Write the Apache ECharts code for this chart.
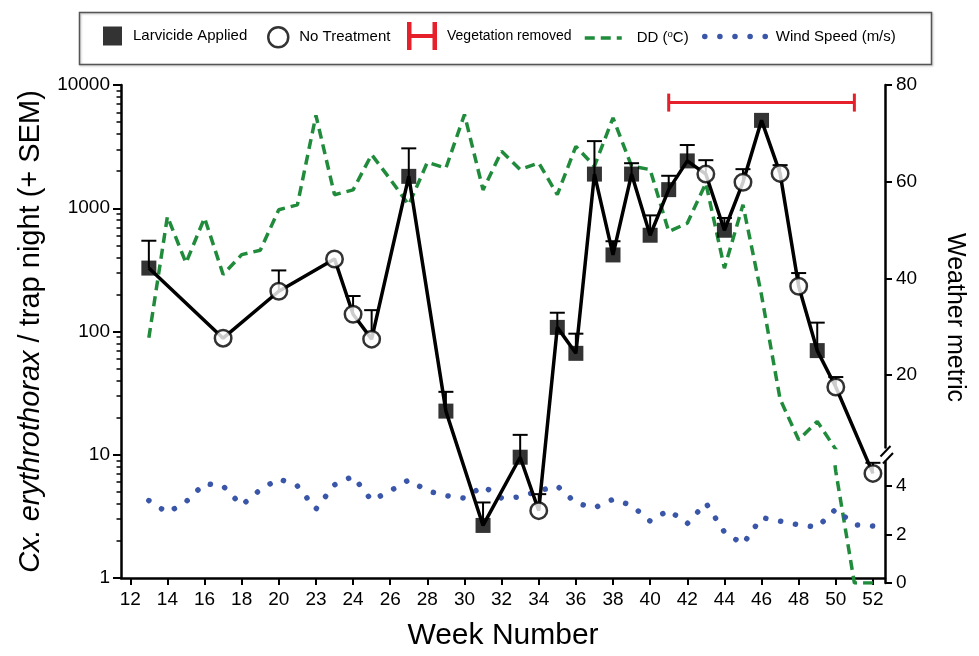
<!DOCTYPE html>
<html><head><meta charset="utf-8">
<script src="https://cdn.jsdelivr.net/npm/echarts@6/dist/echarts.min.js"></script>
<style>html,body{margin:0;padding:0;background:#fff}#c{width:979px;height:656px}</style>
</head><body><div id="c"></div>
<script>
// ---------- data ----------
const xTickValues = [12,14,16,18,20,22,24,26,28,30,32,34,36,38,40,42,44,46,48,50,52];
const xTickLabels = ['12','14','16','18','20','23','24','26','28','30','32','34','36','38','40','42','44','46','48','50','52'];

const larvWeeks = [13,27,29,31,33,35,36,37,38,39,40,41,42,44,46,49];
const larvMean  = [327,1815,22.6,2.67,9.55,108,66.5,1893,418,1893,604,1416,2422,663,5164,70];
const larvSem   = [545,3062,32.4,4.1,14.5,142,96,3505,540,2320,875,1834,3258,834,null,118];

const noWeeks = [17,20,23,24,25,34,43,45,47,48,50,52];
const noMean  = [88.3,212,388,138,86.7,3.52,1893,1625,1918,233,35.5,7.06];
const noSem   = [null,313,null,194,149,4.79,2455,2076,2237,298,42.7,8.6];

const weatherWeeks = [13,14,15,16,17,18,19,20,21,22,23,24,25,26,27,28,29,30,31,32,33,34,35,36,37,38,39,40,41,42,43,44,45,46,47,48,49,50,51,52];
const ddValues   = [27.7,52.8,43.2,52.5,40.8,44.9,45.8,54.2,55.2,73.7,57.3,58.3,65.6,60.5,55.2,64,62.8,73.9,58.3,66.3,62.5,63.9,57.3,67.3,63.2,73.2,63.2,62.5,49.7,51.4,59.7,42.1,55.2,36.5,15,6.6,10.4,4.6,0,0];
const windValues = [3.4,2.9,3.35,4.1,4.0,3.2,3.85,4.3,4.0,3.05,4.05,4.4,3.4,3.8,4.25,3.8,3.6,3.5,4.0,3.5,3.55,3.8,4.0,3.3,3.1,3.45,3.2,2.55,3.0,2.45,3.3,2.1,1.6,2.7,2.55,2.4,2.3,3.05,2.4,2.35];

const vegStart = 41, vegEnd = 51, vegLevel = 7200;

const leftMajorTicks = [1,10,100,1000,10000];
const leftMinorTicks = [2,3,4,5,6,7,8,9,20,30,40,50,60,70,80,90,200,300,400,500,600,700,800,900,2000,3000,4000,5000,6000,7000,8000,9000];
const rightUpperTicks = [20,40,60,80];
const rightLowerTicks = [0,2,4];

// ---------- build ----------
const FONT = 'Liberation Sans, Arial, sans-serif';
const larvData = larvWeeks.map((w,i)=>[w, larvMean[i]]);
const noData = noWeeks.map((w,i)=>[w, noMean[i]]);
const allPts = larvWeeks.map((w,i)=>[w, larvMean[i], larvSem[i]])
  .concat(noWeeks.map((w,i)=>[w, noMean[i], noSem[i]]))
  .sort((a,b)=>a[0]-b[0]);
const connector = allPts.map(p=>[p[0], p[1]]);
const errData = allPts.filter(p=>p[2] != null);
const ddData = weatherWeeks.map((w,i)=>[w, ddValues[i]]);
const windData = weatherWeeks.map((w,i)=>[w, windValues[i]]);

const GREEN = '#1f8b3b', BLUE = '#3a56a8', RED = '#e5202a';
const xMin = 11.5, xMax = 52.65;
const axisLineStyle = {color:'#000', width:2.5};

const chart = echarts.init(document.getElementById('c'), null, {renderer:'canvas'});
const hiddenX = (g)=>({gridIndex:g, type:'value', min:xMin, max:xMax, show:false});

const LFS = 15;
const legendBase = {orient:'horizontal', padding:0, selectedMode:false,
  textStyle:{fontSize:LFS, color:'#000', fontFamily:FONT}};

chart.setOption({
  animation:false,
  backgroundColor:'#fff',
  grid:[
    {left:121, right:94, top:85, bottom:73},
    {left:121, right:94, top:85, bottom:208.5},
    {left:121, right:94, top:461.75, bottom:73}
  ],
  xAxis:[
    {gridIndex:0, type:'value', min:xMin, max:xMax,
     axisLine:{lineStyle:axisLineStyle},
     axisTick:{customValues:xTickValues, length:7, lineStyle:{color:'#000', width:2}},
     axisLabel:{customValues:xTickValues, fontSize:19, color:'#000', fontFamily:FONT, margin:12,
       formatter:(v)=>{const i = xTickValues.indexOf(v); return i>=0 ? xTickLabels[i] : '';}},
     splitLine:{show:false},
     name:'Week Number', nameLocation:'middle', nameGap:43,
     nameTextStyle:{fontSize:30, color:'#000', fontFamily:FONT}},
    hiddenX(1), hiddenX(2)
  ],
  yAxis:[
    {gridIndex:0, type:'log', logBase:10, min:1, max:10000, position:'left',
     axisLine:{show:true, lineStyle:axisLineStyle},
     axisTick:{show:true, customValues:leftMajorTicks, length:8, lineStyle:{color:'#000', width:2}},
     axisLabel:{customValues:leftMajorTicks, fontSize:19, color:'#000', fontFamily:FONT, margin:11,
       formatter:(v)=>String(Math.round(v))},
     splitLine:{show:false}, minorTick:{show:false},
     name:'{i|Cx. erythrothorax} / trap night (+ SEM)', nameLocation:'middle', nameGap:76,
     nameTextStyle:{fontSize:29, color:'#000', fontFamily:FONT,
       rich:{i:{fontStyle:'italic', fontSize:29, color:'#000', fontFamily:FONT}}}},
    {gridIndex:0, type:'log', logBase:10, min:1, max:10000, position:'left',
     axisLine:{show:false},
     axisTick:{show:true, customValues:leftMinorTicks, length:4.5, lineStyle:{color:'#000', width:1.5}},
     axisLabel:{show:false}, splitLine:{show:false}},
    {gridIndex:0, type:'value', min:0, max:1, position:'right',
     axisLine:{show:false}, axisTick:{show:false}, axisLabel:{show:false}, splitLine:{show:false},
     name:'Weather metric', nameLocation:'middle', nameRotate:-90, nameGap:57,
     nameTextStyle:{fontSize:25, color:'#000', fontFamily:FONT, padding:[0,28,0,0]}},
    {gridIndex:1, type:'value', min:5, max:80, position:'right',
     axisLine:{show:true, lineStyle:axisLineStyle},
     axisTick:{show:true, customValues:rightUpperTicks, length:7, lineStyle:{color:'#000', width:2}},
     axisLabel:{customValues:rightUpperTicks, fontSize:19, color:'#000', fontFamily:FONT, margin:11},
     splitLine:{show:false}},
    {gridIndex:2, type:'value', min:0, max:5, position:'right',
     axisLine:{show:true, lineStyle:axisLineStyle},
     axisTick:{show:true, customValues:rightLowerTicks, length:7, lineStyle:{color:'#000', width:2}},
     axisLabel:{customValues:rightLowerTicks, fontSize:19, color:'#000', fontFamily:FONT, margin:11},
     splitLine:{show:false}}
  ],
  legend:[
    Object.assign({}, legendBase, {left:103, top:26.5, itemWidth:19, itemHeight:19,
      data:[{name:'Larvicide Applied', icon:'rect'}], textStyle:Object.assign({}, legendBase.textStyle, {padding:[0,0,0,6]})}),
    Object.assign({}, legendBase, {left:267, top:26, itemWidth:20, itemHeight:20,
      itemStyle:{borderWidth:2.5},
      data:[{name:'No Treatment', icon:'circle'}], textStyle:Object.assign({}, legendBase.textStyle, {padding:[0,0,0,6]})}),
    Object.assign({}, legendBase, {left:407, top:22, itemWidth:30, itemHeight:28,
      data:[{name:'Vegetation removed', icon:'path://M0,0H4.5V12H25.5V0H30V28H25.5V16H4.5V28H0Z'}],
      textStyle:Object.assign({}, legendBase.textStyle, {fontSize:14, padding:[0,0,0,5]})}),
    Object.assign({}, legendBase, {left:583, top:29, itemWidth:37, itemHeight:14,
      lineStyle:{width:3.5}, itemStyle:{opacity:0},
      data:[{name:'DD (°C)'}],
      formatter:()=>'{n|DD (}{s|o}{n|C)}',
      textStyle:Object.assign({}, legendBase.textStyle, {padding:[0,0,0,10],
        rich:{n:{fontSize:LFS, color:'#000', fontFamily:FONT, lineHeight:18},
              s:{fontSize:9.5, color:'#000', fontFamily:FONT, verticalAlign:'top', lineHeight:18}}})}),
    Object.assign({}, legendBase, {left:702, top:29, itemWidth:62, itemHeight:14,
      lineStyle:{width:5.5}, itemStyle:{opacity:0},
      data:[{name:'Wind Speed (m/s)'}],
      textStyle:Object.assign({}, legendBase.textStyle, {padding:[0,0,0,4]})})
  ],
  graphic:[
    {type:'rect', left:77, top:10, shape:{width:852, height:52}, silent:true, z:-1,
     style:{fill:'none', stroke:'#555', lineWidth:1.5, shadowColor:'rgba(0,0,0,0.25)', shadowBlur:2, shadowOffsetX:1, shadowOffsetY:1}},
    {type:'line', shape:{x1:880.5, y1:456.5, x2:890.5, y2:446}, style:{stroke:'#000', lineWidth:2}, silent:true, z:10},
    {type:'line', shape:{x1:883, y1:463.5, x2:893, y2:453}, style:{stroke:'#000', lineWidth:2}, silent:true, z:10}
  ],
  series:[
    {name:'DD (°C)', type:'line', xAxisIndex:1, yAxisIndex:3, data:ddData, symbol:'none', clip:true, z:2,
     itemStyle:{color:GREEN}, lineStyle:{color:GREEN, width:3.5, type:[10,6]}},
    {name:'DD (°C)', type:'line', xAxisIndex:2, yAxisIndex:4, data:ddData, symbol:'none', clip:true, z:2,
     itemStyle:{color:GREEN}, lineStyle:{color:GREEN, width:3.5, type:[10,6]}},
    {name:'Wind Speed (m/s)', type:'line', xAxisIndex:2, yAxisIndex:4, data:windData, symbol:'none', clip:true, z:2,
     itemStyle:{color:BLUE}, lineStyle:{color:BLUE, width:5.5, type:[0.1,15], cap:'round'}},
    {name:'connector', type:'line', xAxisIndex:0, yAxisIndex:0, data:connector, symbol:'none', z:3, silent:true,
     lineStyle:{color:'#000', width:3.5}},
    {name:'errors', type:'custom', xAxisIndex:0, yAxisIndex:0, data:errData, z:3, silent:true,
     encode:{x:0, y:[1,2]},
     renderItem:function(params, api){
       const x = api.value(0), m = api.value(1), e = api.value(2);
       const p0 = api.coord([x, m]), p1 = api.coord([x, e]);
       const hw = 7.5;
       return {type:'group', children:[
         {type:'line', shape:{x1:p0[0], y1:p0[1], x2:p1[0], y2:p1[1]}, style:{stroke:'#000', lineWidth:2}},
         {type:'line', shape:{x1:p1[0]-hw, y1:p1[1], x2:p1[0]+hw, y2:p1[1]}, style:{stroke:'#000', lineWidth:2}}
       ]};
     }},
    {name:'Vegetation removed', type:'custom', xAxisIndex:0, yAxisIndex:0, data:[[vegStart, vegEnd, vegLevel]], z:4,
     itemStyle:{color:RED}, encode:{x:[0,1], y:2},
     renderItem:function(params, api){
       const p0 = api.coord([api.value(0), api.value(2)]);
       const p1 = api.coord([api.value(1), api.value(2)]);
       const col = api.visual('color');
       const h = 9;
       return {type:'group', children:[
         {type:'line', shape:{x1:p0[0], y1:p0[1], x2:p1[0], y2:p1[1]}, style:{stroke:col, lineWidth:3}},
         {type:'line', shape:{x1:p0[0], y1:p0[1]-h, x2:p0[0], y2:p0[1]+h}, style:{stroke:col, lineWidth:3}},
         {type:'line', shape:{x1:p1[0], y1:p1[1]-h, x2:p1[0], y2:p1[1]+h}, style:{stroke:col, lineWidth:3}}
       ]};
     }},
    {name:'Larvicide Applied', type:'scatter', xAxisIndex:0, yAxisIndex:0, data:larvData, symbol:'rect', symbolSize:15, z:5,
     itemStyle:{color:'#000'}},
    {name:'No Treatment', type:'scatter', xAxisIndex:0, yAxisIndex:0, data:noData, symbol:'circle', symbolSize:16.5, z:5,
     itemStyle:{color:'#fff', borderColor:'#000', borderWidth:2.5}}
  ]
});
</script>
</body></html>
